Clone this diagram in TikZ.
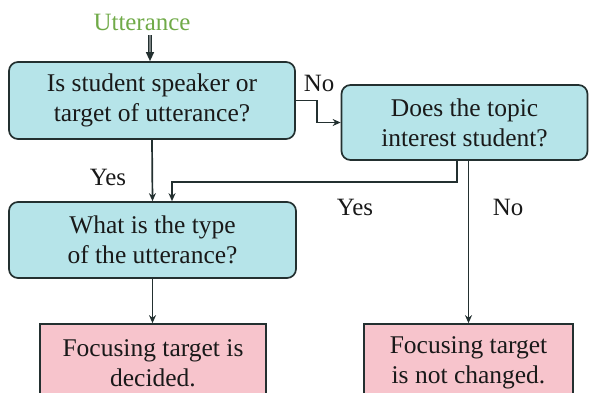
\documentclass[tikz,border=0pt]{standalone}
\usepackage{fontspec}
\setmainfont{Liberation Serif}
\newfontfamily\tnr{Liberation Serif}
\usetikzlibrary{arrows.meta}
\definecolor{qfill}{RGB}{182,228,233}
\definecolor{rfill}{RGB}{247,196,204}
\definecolor{edge}{RGB}{35,48,48}
\definecolor{utt}{RGB}{112,170,72}
\definecolor{txt}{RGB}{25,25,25}
\tikzset{
  qbox/.style={draw=edge, line width=1.7bp, fill=qfill, rounded corners=9bp, align=center, inner sep=0pt, text=txt, font=\tnr\fontsize{25.6}{30}\selectfont},
  rbox/.style={draw=edge, line width=1.7bp, fill=rfill, align=center, inner sep=0pt, text=txt, font=\tnr\fontsize{25.6}{30}\selectfont},
  conn/.style={draw=edge, line width=1.7bp, -{Stealth[length=8bp,width=7bp]}},
  lbl/.style={text=txt, font=\tnr\fontsize{25}{26}\selectfont, inner sep=0pt}
}
\begin{document}
\begin{tikzpicture}[x=1bp,y=-1bp]
\useasboundingbox (0,0) rectangle (589,392);
\node[text=utt, font=\tnr\fontsize{25}{26}\selectfont, inner sep=0pt] (utt) at (142,22) {Utterance};
\node[qbox, minimum width=286bp, minimum height=77bp] (b1) at (152,100.5) {Is student speaker or\\target of utterance?};
\node[qbox, minimum width=246bp, minimum height=75bp] (b2) at (464.5,122.5) {Does the topic\\interest student?};
\node[qbox, minimum width=287bp, minimum height=76bp] (b3) at (152.5,240) {What is the type\\of the utterance?};
\node[rbox, minimum width=226bp, minimum height=78bp] (b4) at (153,363) {Focusing target is\\decided.};
\node[rbox, minimum width=209bp, minimum height=78bp] (b5) at (468.5,363) {Focusing target\\is not changed.};
\coordinate (uttend) at (150,35);
\draw[draw=edge, line width=1.2bp, double=edge!60, double distance=1.4bp, -{Triangle[length=9bp,width=8bp]}] (uttend) -- (b1.north -| uttend);
\draw[conn] (b1.east) -- ++(21,0) |- (b2.west);
\draw[conn] (b1.south) -- (b3.north);
\draw[conn] ([xshift=-7.5bp]b2.south) -- ++(0,21) -| ([xshift=19.5bp]b3.north);
\draw[conn] (b2.south -| b5.north) -- (b5.north);
\draw[conn] (b3.south) -- (b4.north -| b3.south);
\node[lbl] (no1) at (319,83) {No};
\node[lbl] (yes1) at (108,177) {Yes};
\node[lbl] (yes2) at (355,207) {Yes};
\node[lbl] (no2) at (508,207) {No};
\end{tikzpicture}
\end{document}
